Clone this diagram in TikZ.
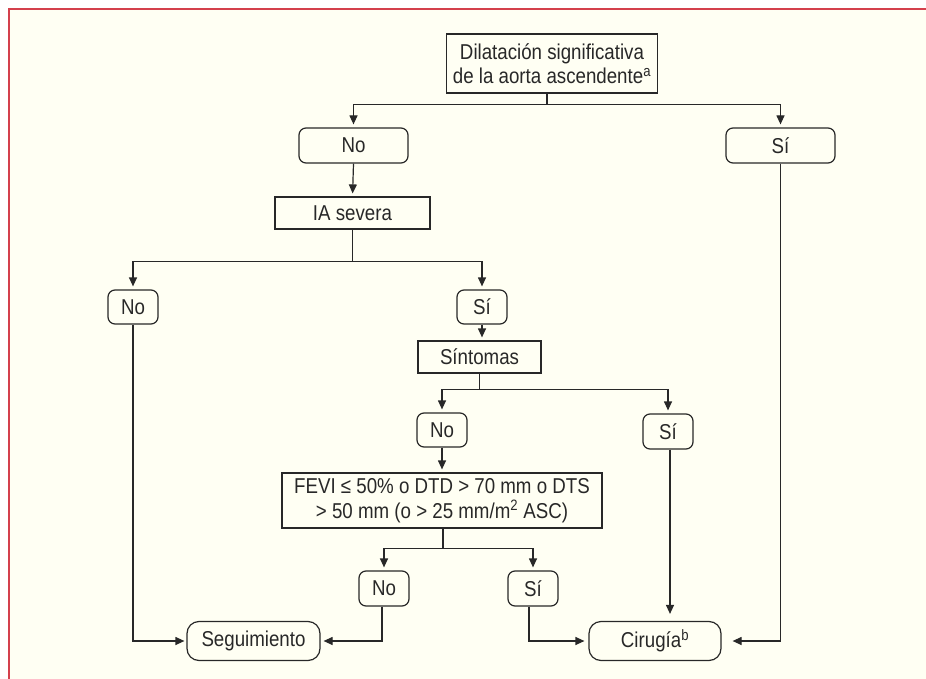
\documentclass[tikz,border=0pt]{standalone}
\usepackage{fontspec}
\setmainfont{Liberation Sans}[FakeStretch=0.87]
\usetikzlibrary{arrows.meta}
\definecolor{cream}{RGB}{255,255,243}
\definecolor{framered}{RGB}{212,64,76}
\definecolor{ink}{RGB}{40,40,40}
\begin{document}
\begin{tikzpicture}[x=1pt,y=-1pt,
  font=\fontsize{21.5}{24.5}\selectfont,
  box/.style={draw=ink, line width=1.2pt, inner sep=0pt, align=center, text=ink},
  sq/.style={box},
  rd/.style={box, rounded corners=7pt},
  rdl/.style={box, rounded corners=12pt},
  ln/.style={draw=ink, line width=1.2pt},
  arr/.style={ln, -{Triangle[length=9pt,width=8pt]}, shorten >=3pt}]
\useasboundingbox (0,0) rectangle (926,679);
\fill[white] (0,0) rectangle (926,679);
\fill[cream] (9,9) rectangle (926,679);
\draw[framered, line width=2pt] (9,679) -- (9,9) -- (926,9);

% nodes
\node[sq, minimum width=211pt, minimum height=59pt] (top) at (552,63.5)
  {Dilataci\'on significativa\\de la aorta ascendente\textsuperscript{a}};
\node[rd, minimum width=109pt, minimum height=35pt] (no1) at (353.5,145.5) {No};
\node[rd, minimum width=109pt, minimum height=35pt] (si1) at (780.5,145.5) {S\'i};
\node[sq, minimum width=155pt, minimum height=32pt] (ia) at (352.5,213) {IA severa};
\node[rd, minimum width=50pt, minimum height=34pt] (no2) at (133,307) {No};
\node[rd, minimum width=50pt, minimum height=34pt] (si2) at (482,307) {S\'i};
\node[sq, minimum width=123pt, minimum height=32pt] (sint) at (479.5,357) {S\'intomas};
\node[rd, minimum width=50pt, minimum height=34pt] (no3) at (442,430) {No};
\node[rd, minimum width=50pt, minimum height=35pt] (si3) at (668,431.5) {S\'i};
\node[sq, minimum width=320pt, minimum height=55pt] (fevi) at (442,500.5)
  {FEVI ≤ 50\% o DTD > 70 mm o DTS\\> 50 mm (o > 25 mm/m\textsuperscript{2} ASC)};
\node[rd, minimum width=50pt, minimum height=35pt] (no4) at (384,588.5) {No};
\node[rd, minimum width=50pt, minimum height=35pt] (si4) at (533,588.5) {S\'i};
\node[rdl, minimum width=133pt, minimum height=39pt] (seg) at (253.5,641) {Seguimiento};
\node[rdl, minimum width=132pt, minimum height=39pt] (cir) at (655,641) {Cirug\'ia\textsuperscript{b}};

% connectors
\draw[ln] ([xshift=-5pt]top.south) -- ++(0,11) coordinate (j1);
\draw[arr] (j1) -| (no1.north);
\draw[arr] (j1) -| (si1.north);
\draw[arr] (no1.south) -- (ia.north);
\draw[ln] (ia.south) -- ++(0,32) coordinate (j2);
\draw[arr] (j2) -| (no2.north);
\draw[arr] (j2) -| (si2.north);
\draw[arr] (si2.south) -- (si2.south |- sint.north);
\draw[ln] (sint.south) -- ++(0,16) coordinate (j3);
\draw[arr] (j3) -| (no3.north);
\draw[arr] (j3) -| (si3.north);
\draw[arr] (no3.south) -- (no3.south |- fevi.north);
\draw[ln] ([xshift=1pt]fevi.south) -- ++(0,20) coordinate (j4);
\draw[arr] (j4) -| (no4.north);
\draw[arr] (j4) -| (si4.north);
\draw[arr, shorten >=2pt] (no2.south) |- (seg.west);
\draw[arr] ([xshift=-2pt]no4.south) |- (seg.east);
\draw[arr, shorten >=4pt] ([xshift=-4pt]si4.south) |- (cir.west);
\draw[arr, shorten >=7pt] ([xshift=2pt]si3.south) -- ([xshift=2pt]si3.south |- cir.north);
\draw[arr, shorten >=11pt] (si1.south) |- (cir.east);
\end{tikzpicture}
\end{document}
